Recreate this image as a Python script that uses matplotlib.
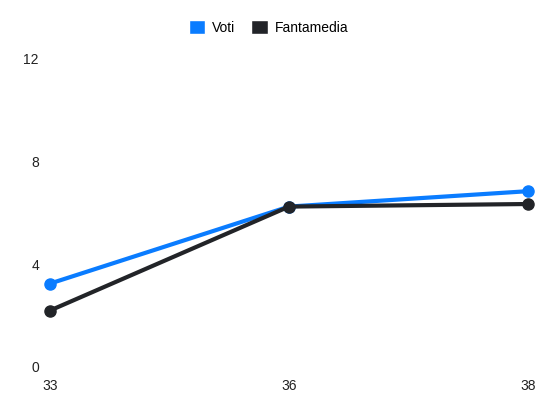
import matplotlib.pyplot as plt
from matplotlib.patches import Patch

plt.rcParams['font.family'] = ['Liberation Sans', 'DejaVu Sans']

giornate = ["33", "36", "38"]
voti = [3.25, 6.25, 6.85]
fantamedia = [2.2, 6.25, 6.35]
y_ticks = [0, 4, 8, 12]

blue = "#0a7cff"
dark = "#222428"

fig = plt.figure(figsize=(5.5, 4.12), dpi=100)
ax = fig.add_axes([50 / 550, 45 / 412, 478 / 550, 308 / 412])

x = list(range(len(giornate)))
ax.plot(x, voti, color=blue, lw=3, marker="o", ms=8, clip_on=False, zorder=3)
ax.plot(x, fantamedia, color=dark, lw=3, marker="o", ms=8, clip_on=False, zorder=4)

ax.set_xlim(0, len(giornate) - 1)
ax.set_ylim(0, 12)
ax.set_xticks(x)
ax.set_xticklabels(giornate)
ax.set_yticks(y_ticks)
for s in ax.spines.values():
    s.set_visible(False)
ax.tick_params(axis="both", length=0, labelsize=10, colors="#222222")
ax.tick_params(axis="y", pad=8)
ax.tick_params(axis="x", pad=9)

handles = [Patch(facecolor=blue, edgecolor="white"), Patch(facecolor=dark, edgecolor="white")]
fig.legend(handles, ["Voti", "Fantamedia"], loc="center", bbox_to_anchor=(0.488, 0.933),
           ncol=2, frameon=False, fontsize=10, handlelength=1.2, handleheight=1.2,
           handletextpad=0.5, columnspacing=1.1)

fig.savefig("out.png", dpi=100)
